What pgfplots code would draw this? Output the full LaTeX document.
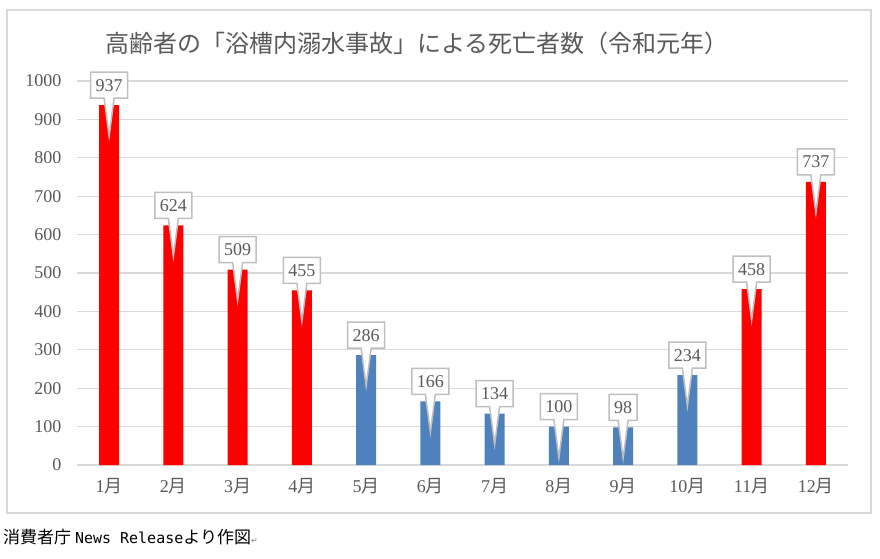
\documentclass[border=0pt]{standalone}
\usepackage{pgfplots}
\pgfplotsset{compat=1.18}
\usepackage{fontspec}
\setmainfont{Liberation Serif}
\newfontfamily\cjk{Noto Sans CJK JP}
\newfontfamily\mono{DejaVu Sans Mono}
\newfontfamily\dejavu{DejaVu Sans}
\usetikzlibrary{shapes.callouts}
\definecolor{txt}{HTML}{595959}
\definecolor{gridc}{HTML}{D9D9D9}
\definecolor{callb}{HTML}{BFBFBF}
\definecolor{barred}{HTML}{FF0000}
\definecolor{barblue}{HTML}{4F81BD}

% months 1-4, 11, 12 (red) and 5-10 (blue); x = month - 1
\pgfplotstableread{
x y
0 937
1 624
2 509
3 455
10 458
11 737
}\redmonths
\pgfplotstableread{
x y
4 286
5 166
6 134
7 100
8 98
9 234
}\bluemonths

\begin{document}
\begin{tikzpicture}[x=1pt,y=1pt]
\useasboundingbox (0,0) rectangle (880,558);
\draw[gridc, line width=1.5pt] (7,45) rectangle (871,548);
\node[text=txt, font=\cjk\fontsize{24}{28}\selectfont] at (417,515)
  {高齢者の「浴槽内溺水事故」による死亡者数（令和元年）};
\node[anchor=west, inner sep=0pt, font=\cjk\fontsize{17}{19}\selectfont] at (3,21)
  {消費者庁 {\mono\fontsize{15}{17}\selectfont News Release}より作図{\dejavu\color{gray}\fontsize{8}{8}\selectfont ↵}};

\begin{axis}[
    at={(77pt,93pt)}, anchor=south west,
    scale only axis,
    width=771pt, height=384pt,
    ybar, bar width=20pt, bar shift=0pt,
    xmin=-0.5, xmax=11.5,
    ymin=0, ymax=1000,
    ytick distance=100,
    xtick={0,...,11},
    xticklabels={1{\cjk 月},2{\cjk 月},3{\cjk 月},4{\cjk 月},5{\cjk 月},6{\cjk 月},
                 7{\cjk 月},8{\cjk 月},9{\cjk 月},10{\cjk 月},11{\cjk 月},12{\cjk 月}},
    axis line style={draw=none},
    major tick length=0pt,
    ymajorgrids,
    grid style={gridc, line width=1.2pt},
    /pgf/number format/assume math mode=true,
    /pgf/number format/1000 sep={},
    tick label style={text=txt, font=\fontsize{18}{18}\selectfont},
    yticklabel style={xshift=-12pt},
    xticklabel style={yshift=-10pt},
    clip=false,
    nodes near coords,
    nodes near coords align=center,
    nodes near coords style={
        rectangle callout, draw=callb, line width=1.5pt, fill=white,
        text=txt, font=\fontsize{18}{18}\selectfont,
        yshift=20pt,
        callout relative pointer={(0pt,-38pt)},
        callout pointer width=10pt,
        inner xsep=5pt, inner ysep=4pt, minimum height=26pt},
]
\addplot[draw=none, fill=barred] table[x=x, y=y] {\redmonths};
\addplot[draw=none, fill=barblue] table[x=x, y=y] {\bluemonths};
\end{axis}
\end{tikzpicture}
\end{document}
